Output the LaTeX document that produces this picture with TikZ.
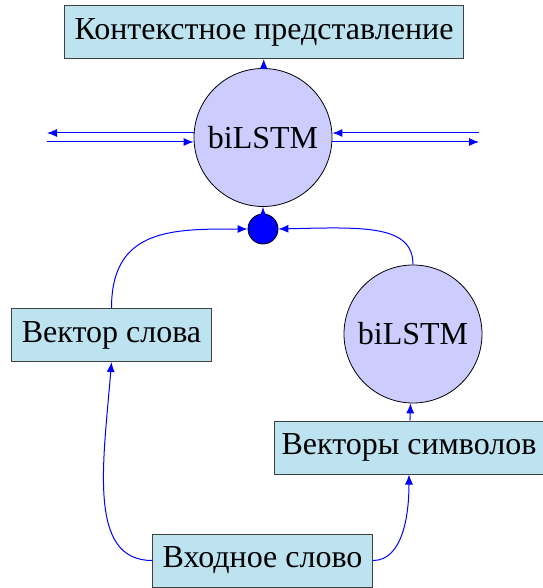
\documentclass[tikz,border=0pt]{standalone}
\usepackage{fontspec}
\setmainfont{Liberation Serif}
\usetikzlibrary{arrows.meta}
\definecolor{boxfill}{HTML}{BDE3F0}
\definecolor{circfill}{HTML}{CCCCFF}
\definecolor{boxdraw}{HTML}{404040}
\tikzset{
  lbl/.style={font=\fontsize{32}{38}\selectfont},
  tbox/.style={lbl, draw=boxdraw, fill=boxfill, line width=1pt, minimum height=53pt, inner xsep=10pt, inner ysep=0pt},
  lstm/.style={lbl, circle, draw=black, fill=circfill, line width=0.8pt, minimum size=138pt, inner sep=0pt},
  joint/.style={circle, draw=black, fill=blue, line width=0.8pt, minimum size=30pt, inner sep=0pt},
  arr/.style={draw=blue, line width=1pt, -{Latex[length=10pt,width=8pt]}}
}
\begin{document}
\begin{tikzpicture}[x=1pt,y=-1pt]
\useasboundingbox (0,0) rectangle (542,588);
\node[tbox] (ctx) at (264,32) {Контекстное представление};
\node[lstm] (big) at (263,137.5) {biLSTM};
\node[joint] (dot) at (263,229) {};
\node[tbox] (wv) at (111.5,335) {Вектор слова};
\node[lstm] (small) at (413,334) {biLSTM};
\node[tbox, inner xsep=7.5pt] (cv) at (409,447.5) {Векторы символов};
\node[tbox] (in) at (262.5,560.5) {Входное слово};
\coordinate (l1) at (47,133);
\coordinate (l2) at (47,142);
\coordinate (r1) at (479,133);
\coordinate (r2) at (479,142);
\draw[arr] (big) -- (ctx);
\draw[arr] (big.west |- l1) -- (l1);
\draw[arr] (l2) -- (big.west |- l2);
\draw[arr] (r1) -- (big.east |- r1);
\draw[arr] (big.east |- r2) -- (r2);
\draw[arr] (dot) -- (big);
\draw[arr] (wv.north) .. controls +(0,-80) and +(-75,0) .. (dot.west);
\draw[arr] (small.north) .. controls +(0,-40) and +(85,-2) .. (dot.east);
\draw[arr] (cv) -- (small);
\draw[arr] (in.west) .. controls +(-65,0) and +(-8,100) .. (wv.south);
\draw[arr] (in.east) .. controls +(30,0) and +(0,40) .. (cv.south);
\end{tikzpicture}
\end{document}
